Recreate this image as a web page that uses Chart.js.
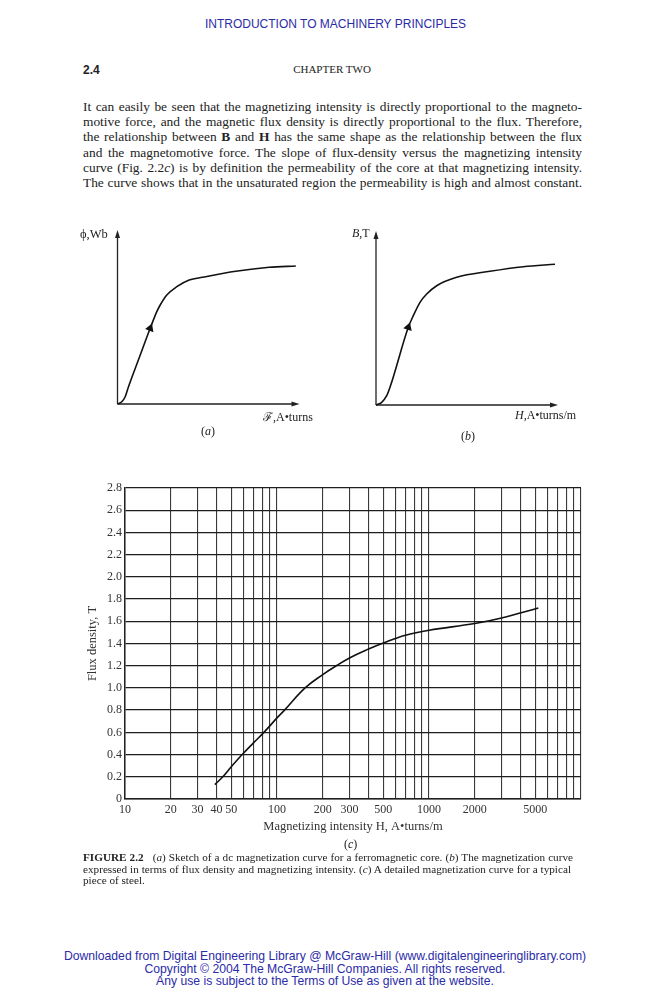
<!DOCTYPE html>
<html>
<head>
<meta charset="utf-8">
<script src="https://cdn.jsdelivr.net/npm/chart.js@4.4.1/dist/chart.umd.min.js"></script>
<style>
  body { margin:0; width:666px; height:1000px; background:#fff; position:relative; overflow:hidden;
         font-family:"Liberation Serif", serif; color:#222; }
  .abs { position:absolute; }
  .blue { color:#2b2ba8; font-family:"Liberation Sans", Arial, sans-serif; }
  #para { left:83px; top:99px; width:499px; font-size:13.4px; line-height:15.2px; }
  #para div, #cap .j { text-align:justify; text-align-last:justify; }
  #cap { left:83px; top:852px; font-size:11.2px; line-height:11.7px; }
  #foot { left:0; width:650px; top:950px; text-align:center; font-size:12.2px; line-height:12.6px; }
  .lbl { font-size:12px; white-space:nowrap; }
  canvas { position:absolute; }
</style>
</head>
<body>
<div class="abs blue" style="left:0;width:671px;top:17px;text-align:center;font-size:12px;">INTRODUCTION TO MACHINERY PRINCIPLES</div>
<div class="abs" style="left:83px;top:63px;font-family:'Liberation Sans',Arial,sans-serif;font-weight:bold;font-size:12px;">2.4</div>
<div class="abs" style="left:0;width:664px;top:63px;text-align:center;font-size:11px;">CHAPTER TWO</div>

<div id="para" class="abs">
  <div>It can easily be seen that the magnetizing intensity is directly proportional to the magneto-</div>
  <div>motive force, and the magnetic flux density is directly proportional to the flux. Therefore,</div>
  <div>the relationship between <b>B</b> and <b>H</b> has the same shape as the relationship between the flux</div>
  <div>and the magnetomotive force. The slope of flux-density versus the magnetizing intensity</div>
  <div>curve (Fig. 2.2<i>c</i>) is by definition the permeability of the core at that magnetizing intensity.</div>
  <div>The curve shows that in the unsaturated region the permeability is high and almost constant.</div>
</div>

<canvas id="sketchA" width="270" height="210" style="left:60px;top:215px;"></canvas>
<canvas id="sketchB" width="270" height="210" style="left:320px;top:215px;"></canvas>
<div class="abs lbl" style="left:80px;top:227px;font-size:12.5px;">ϕ,Wb</div>
<div class="abs lbl" style="left:263px;top:408px;">ℱ,A•turns</div>
<div class="abs lbl" style="left:201px;top:424px;">(<i>a</i>)</div>
<div class="abs lbl" style="left:352px;top:226px;"><i>B</i>,T</div>
<div class="abs lbl" style="left:515px;top:408px;"><i>H</i>,A•turns/m</div>
<div class="abs lbl" style="left:461px;top:429px;">(<i>b</i>)</div>

<canvas id="curveC" width="666" height="372" style="left:0;top:470px;"></canvas>
<div class="abs lbl" style="left:344px;top:837px;">(<i>c</i>)</div>

<div id="cap" class="abs">
  <div class="j" style="width:490px;"><b>FIGURE 2.2</b>&nbsp;&nbsp;&nbsp;(<i>a</i>) Sketch of a dc magnetization curve for a ferromagnetic core. (<i>b</i>) The magnetization curve</div>
  <div class="j" style="width:488px;">expressed in terms of flux density and magnetizing intensity. (<i>c</i>) A detailed magnetization curve for a typical</div>
  <div>piece of steel.</div>
</div>

<div id="foot" class="abs blue">
  <div>Downloaded from Digital Engineering Library @ McGraw-Hill (www.digitalengineeringlibrary.com)</div>
  <div>Copyright © 2004 The McGraw-Hill Companies. All rights reserved.</div>
  <div>Any use is subject to the Terms of Use as given at the website.</div>
</div>

<script>
// (c) detailed magnetization curve
const hValues = [39, 44, 50, 59, 70, 82, 100, 112, 153, 200, 246, 300, 400, 500, 700, 1000, 2000, 3000, 5240];
const bValues = [0.13, 0.2, 0.29, 0.4, 0.505, 0.6, 0.73, 0.8, 1.0, 1.12, 1.2, 1.27, 1.35, 1.405, 1.475, 1.52, 1.58, 1.63, 1.72];
const hGrid = [10, 20, 30, 40, 50, 60, 70, 80, 90,
               100, 200, 300, 400, 500, 600, 700, 800, 900,
               1000, 2000, 3000, 4000, 5000, 6000, 7000, 8000, 9000, 10000];
const hTickLabels = [10, 20, 30, 40, 50, 100, 200, 300, 500, 1000, 2000, 5000];
const bTicks = [0, 0.2, 0.4, 0.6, 0.8, 1.0, 1.2, 1.4, 1.6, 1.8, 2.0, 2.2, 2.4, 2.6, 2.8];

// (a) and (b) sketches, arbitrary units
const sketchAx = [0, 4.3, 7.7, 11, 22, 32.7, 39.3, 42.7, 49.3, 59.3, 71.7, 85, 118.3, 151.7, 178.3];
const sketchAy = [0, 2.3, 7.3, 17.3, 47, 75.7, 92.3, 99, 109, 117.3, 124, 126.7, 132.7, 136.7, 138];
const sketchBx = [0, 5.7, 10.7, 14, 32.3, 37.3, 44, 50.7, 60.7, 80.7, 114, 147.3, 179];
const sketchBy = [0, 2.7, 9.3, 17.7, 77.7, 89.3, 102.7, 111, 119.3, 127.7, 133.7, 138.3, 140.7];

Chart.defaults.font.family = "'Liberation Serif', serif";
Chart.defaults.color = '#333';

// draws the two sketch axes with arrow heads
const arrowAxes = {
  id: 'arrowAxes',
  beforeDatasetsDraw(chart) {
    const {ctx, chartArea: {left, right, top, bottom}} = chart;
    ctx.save();
    ctx.strokeStyle = '#222';
    ctx.fillStyle = '#222';
    ctx.lineWidth = 1.3;
    ctx.beginPath();
    ctx.moveTo(left, bottom); ctx.lineTo(right - 5, bottom);
    ctx.moveTo(left, bottom); ctx.lineTo(left, top + 5);
    ctx.stroke();
    ctx.beginPath();
    ctx.moveTo(right, bottom); ctx.lineTo(right - 8, bottom - 2.5); ctx.lineTo(right - 8, bottom + 2.5);
    ctx.closePath(); ctx.fill();
    ctx.beginPath();
    ctx.moveTo(left, top); ctx.lineTo(left - 2.5, top + 8); ctx.lineTo(left + 2.5, top + 8);
    ctx.closePath(); ctx.fill();
    ctx.restore();
  }
};

function makeSketch(id, xs, ys, arrowIdx, arrowRot, pad) {
  return new Chart(document.getElementById(id), {
    type: 'line',
    data: {
      datasets: [{
        data: xs.map((x, i) => ({x: x, y: ys[i]})),
        borderColor: '#111',
        backgroundColor: '#111',
        borderWidth: 1.6,
        cubicInterpolationMode: 'monotone',
        pointStyle: 'triangle',
        pointRadius: xs.map((x, i) => i === arrowIdx ? 3.5 : 0),
        rotation: arrowRot,
        clip: false
      }]
    },
    options: {
      responsive: false,
      animation: false,
      layout: {padding: pad},
      plugins: {legend: {display: false}, tooltip: {enabled: false}},
      scales: {
        x: {type: 'linear', display: false, min: 0, max: 182},
        y: {type: 'linear', display: false, min: 0, max: 174}
      }
    },
    plugins: [arrowAxes]
  });
}

makeSketch('sketchA', sketchAx, sketchAy, 5, 21, {left: 57.5, top: 15, right: 30.5, bottom: 21});
makeSketch('sketchB', sketchBx, sketchBy, 4, 18, {left: 56, top: 16, right: 32, bottom: 20});

new Chart(document.getElementById('curveC'), {
  type: 'line',
  data: {
    datasets: [{
      data: hValues.map((h, i) => ({x: h, y: bValues[i]})),
      borderColor: '#111',
      borderWidth: 1.6,
      pointRadius: 0,
      tension: 0.4
    }]
  },
  options: {
    responsive: false,
    animation: false,
    layout: {padding: {left: 80, right: 85, top: 18, bottom: 0}},
    plugins: {legend: {display: false}, tooltip: {enabled: false}},
    scales: {
      x: {
        type: 'logarithmic',
        min: 10,
        max: 10000,
        afterBuildTicks: s => { s.ticks = hGrid.map(v => ({value: v})); },
        afterFit: s => { s.height = 43; },
        grid: {color: '#3a3a3a', lineWidth: 1.1, drawTicks: false},
        border: {color: '#222', width: 1.5},
        ticks: {
          autoSkip: false, maxRotation: 0, padding: 4,
          font: {size: 12},
          callback: v => hTickLabels.includes(v) ? String(v) : ''
        },
        title: {display: true, text: 'Magnetizing intensity H, A•turns/m',
                font: {size: 12.5}, padding: {top: 0, bottom: 8}}
      },
      y: {
        min: 0,
        max: 2.8,
        afterBuildTicks: s => { s.ticks = bTicks.map(v => ({value: v})); },
        afterFit: s => { s.width = 45; },
        grid: {color: '#1e1e1e', lineWidth: 1.3, drawTicks: false},
        border: {color: '#222', width: 1.5},
        ticks: {
          padding: 3,
          font: {size: 12},
          callback: v => v === 0 ? '0' : v.toFixed(1)
        },
        title: {display: true, text: 'Flux density, T',
                font: {size: 12.5}, padding: {top: 5, bottom: 0}}
      }
    }
  }
});
</script>
</body>
</html>
